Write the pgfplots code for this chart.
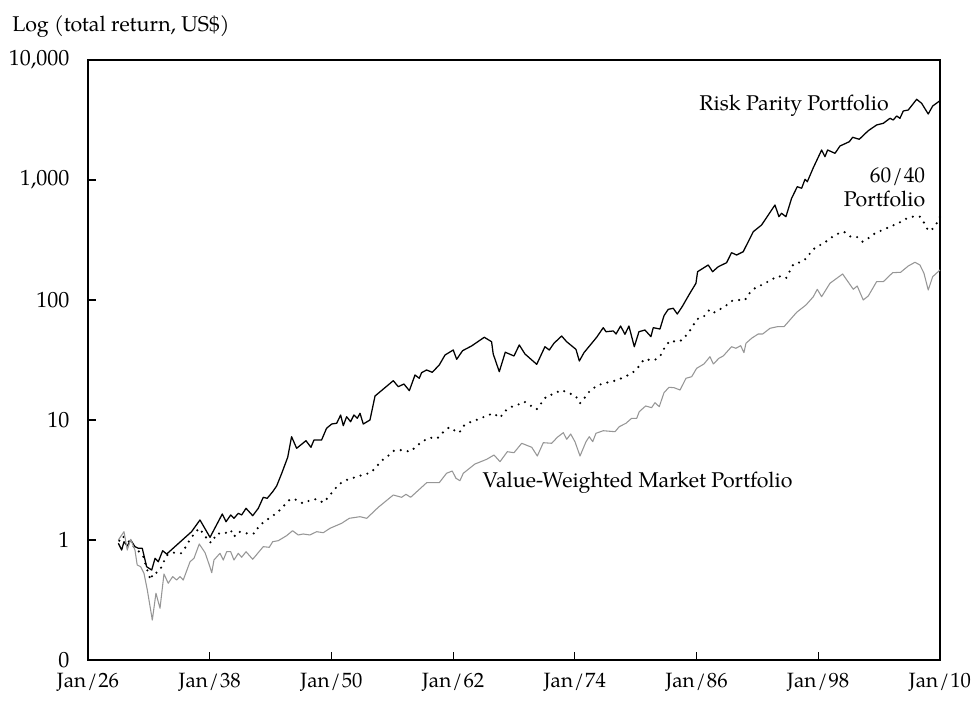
\documentclass[border=0pt]{standalone}
\usepackage{fontspec}
\setmainfont{TeX Gyre Pagella}
\usepackage{pgfplots}
\pgfplotsset{compat=1.18}
\definecolor{vwgray}{RGB}{150,150,150}
\newcommand{\slsep}{\kern0.8pt/\kern0.8pt}
\begin{document}
\begin{tikzpicture}
\useasboundingbox (-66pt,-31.5pt) rectangle (663pt,495pt);
\begin{axis}[
  at={(0pt,0pt)}, anchor=south west,
  scale only axis, width=639pt, height=450pt,
  xmin=1926, xmax=2010,
  ymode=log, ymin=0.1, ymax=10000,
  xtick={1926,1938,1950,1962,1974,1986,1998,2010},
  xticklabels={Jan\slsep26,Jan\slsep38,Jan\slsep50,Jan\slsep62,Jan\slsep74,Jan\slsep86,Jan\slsep98,Jan\slsep10},
  ytick={0.1,1,10,100,1000,10000},
  yticklabels={0,1,10,100,{1,000},{10,000}},
  yminorticks=false, xminorticks=false,
  tick align=inside, xtick pos=left, ytick pos=left,
  major tick length=6pt,
  tick style={black, line width=0.8pt},
  axis line style={black, line width=0.9pt},
  xticklabel style={font=\fontsize{15.5}{18}\selectfont, black, yshift=-6pt},
  yticklabel style={font=\fontsize{16.5}{19}\selectfont, black, xshift=-10.5pt},
  clip=false,
]
% Risk Parity Portfolio
\addplot[black, line width=0.95pt, line join=round] coordinates {
(1928.99,0.939) (1929.32,0.825) (1929.55,0.968) (1929.87,0.891) (1930.21,1.0)
(1930.63,0.880) (1930.96,0.853) (1931.35,0.853) (1931.78,0.599) (1932.28,0.562)
(1932.61,0.704) (1932.93,0.659) (1933.36,0.814) (1933.76,0.764) (1936.21,1.173)
(1937.04,1.468) (1938.03,1.053) (1939.24,1.647) (1939.61,1.420) (1940.07,1.616)
(1940.39,1.516) (1940.82,1.669) (1941.15,1.616) (1941.58,1.837) (1942.24,1.594)
(1942.79,1.837) (1943.28,2.269) (1943.67,2.226) (1944.21,2.527) (1944.60,2.818)
(1945.10,3.596) (1945.69,4.89) (1946.07,7.26) (1946.57,5.81) (1947.49,6.72)
(1947.98,5.92) (1948.28,6.81) (1949.03,6.81) (1949.52,8.53) (1950.03,9.26)
(1950.52,9.39) (1950.91,11.0) (1951.17,8.97) (1951.50,10.65) (1951.89,9.68)
(1952.22,11.0) (1952.55,10.33) (1952.82,11.37) (1953.14,9.26) (1953.80,10.0)
(1954.30,15.85) (1956.10,21.26) (1956.59,18.95) (1957.15,19.95) (1957.68,17.55)
(1958.24,23.71) (1958.66,22.26) (1958.89,24.79) (1959.38,26.1) (1959.94,24.98)
(1960.63,28.73) (1961.20,34.8) (1962.01,38.3) (1962.35,32.05) (1962.93,37.8)
(1963.82,41.4) (1965.07,48.9) (1965.79,44.9) (1965.95,35.5) (1966.55,25.26)
(1967.14,36.7) (1968.00,34.15) (1968.52,42.2) (1969.08,35.5) (1970.24,29.1)
(1971.05,40.8) (1971.48,38.3) (1971.94,43.6) (1972.70,50.1) (1973.19,44.9)
(1974.11,38.8) (1974.44,31.0) (1974.90,36.4) (1976.15,48.9) (1976.80,58.8)
(1977.07,54.4) (1977.79,55.2) (1978.06,52.1) (1978.51,60.7) (1978.94,51.8)
(1979.33,60.7) (1979.86,40.8) (1980.32,54.4) (1980.91,56.2) (1981.50,49.5)
(1981.73,58.8) (1982.39,57.3) (1982.79,74.0) (1983.21,83.6) (1983.70,85.3)
(1984.10,76.4) (1984.62,89.1) (1985.28,111.5) (1985.94,137.8) (1986.10,172.1)
(1987.15,195.8) (1987.58,172.1) (1988.14,189.4) (1988.96,204.6) (1989.45,247.9)
(1989.95,237.1) (1990.60,252.7) (1991.59,370.9) (1992.41,421.7) (1993.73,619)
(1994.12,494.6) (1994.38,528) (1994.81,494.6) (1995.37,704) (1995.93,879.6)
(1996.36,852.9) (1996.69,1013) (1996.92,967.9) (1997.51,1266) (1998.10,1616)
(1998.33,1778) (1998.66,1564) (1998.92,1778) (1999.65,1669) (2000.14,1920)
(2001.06,2085) (2001.39,2269) (2002.04,2184) (2002.93,2576) (2003.75,2873)
(2004.41,2968) (2005.07,3267) (2005.39,3162) (2005.73,3415) (2006.05,3267)
(2006.38,3758) (2006.87,3831) (2007.70,4705) (2008.19,4357) (2008.84,3548)
(2009.28,4137) (2010.00,4580)
};
% 60/40 Portfolio
\addplot[black, line width=1.8pt, line cap=round, dash pattern=on 0pt off 5.3pt] coordinates {
(1929.09,0.987) (1929.42,1.080) (1929.81,1.0) (1930.21,0.950) (1930.63,0.853)
(1931.05,0.799) (1931.45,0.726) (1931.72,0.607) (1931.94,0.528) (1932.17,0.464)
(1932.43,0.534) (1932.76,0.534) (1933.10,0.562) (1933.42,0.647) (1933.82,0.750)
(1934.41,0.784) (1935.17,0.775) (1935.66,0.880) (1936.06,1.013) (1936.55,1.150)
(1936.97,1.252) (1937.47,1.101) (1937.96,0.957) (1938.28,0.957) (1938.62,1.122)
(1939.08,1.137) (1939.51,1.137) (1940.07,1.212) (1940.39,1.065) (1940.82,1.173)
(1941.38,1.150) (1941.97,1.122) (1942.46,1.137) (1942.86,1.316) (1943.62,1.468)
(1944.20,1.585) (1944.76,1.721) (1945.32,1.931) (1945.92,2.184) (1946.41,2.184)
(1947.17,2.022) (1947.82,2.126) (1948.54,2.196) (1949.20,2.046) (1949.79,2.326)
(1950.25,2.611) (1950.78,2.929) (1951.50,3.162) (1952.32,3.331) (1953.08,3.481)
(1953.87,3.638) (1954.39,4.035) (1954.95,4.579) (1955.61,5.041) (1956.17,5.549)
(1957.02,5.623) (1957.75,5.442) (1958.34,5.99) (1958.90,6.596) (1959.72,7.12)
(1960.44,7.04) (1960.96,7.84) (1961.62,8.70) (1962.18,8.14) (1962.61,7.84)
(1963.00,8.91) (1963.66,9.57) (1964.48,10.13) (1965.24,10.80) (1965.96,11.37)
(1966.62,10.43) (1967.11,11.89) (1967.80,12.91) (1968.44,13.47) (1969.01,14.21)
(1969.65,13.16) (1970.24,12.28) (1970.73,13.94) (1971.22,15.85) (1971.94,16.47)
(1972.63,17.78) (1973.35,16.88) (1974.08,15.85) (1974.51,13.78) (1975.00,15.46)
(1975.49,17.55) (1976.15,19.20) (1976.80,20.22) (1977.62,20.85) (1978.37,21.84)
(1979.10,23.26) (1979.82,25.26) (1980.35,28.18) (1980.81,32.05) (1981.57,31.62)
(1982.06,32.05) (1982.56,35.48) (1982.88,40.8) (1983.38,45.8) (1984.03,44.9)
(1984.62,46.4) (1985.18,53.4) (1985.51,58.1) (1986.01,69.1) (1986.68,72.2)
(1987.25,82.5) (1987.65,77.9) (1988.14,82.5) (1988.70,86.9) (1989.45,98.1)
(1990.11,100) (1990.77,100) (1991.26,115.1) (1991.86,127.6) (1992.58,135.1)
(1993.31,146.8) (1994.06,158.5) (1994.82,151.6) (1995.54,198.5) (1996.19,206.2)
(1996.86,222.6) (1997.35,257.6) (1997.84,278.1) (1998.56,296.8) (1999.15,326.7)
(1999.87,354.8) (2000.53,370.9) (2001.19,336.9) (2001.78,336.9) (2002.37,306.0)
(2002.93,326.7) (2003.59,359.6) (2004.34,383.1) (2005.07,408.1) (2005.88,435.6)
(2006.54,470.5) (2007.20,494.6) (2008.02,494.6) (2008.42,440.8) (2008.84,378.0)
(2009.18,383.1) (2009.67,435.6) (2010.00,494.6)
};
% Value-Weighted Market Portfolio
\addplot[vwgray, line width=0.8pt, line join=round] coordinates {
(1928.99,1.0) (1929.55,1.173) (1929.87,0.825) (1930.21,1.013) (1930.63,0.825)
(1930.85,0.619) (1931.19,0.599) (1931.52,0.528) (1931.85,0.383) (1932.34,0.215)
(1932.70,0.360) (1933.10,0.270) (1933.49,0.521) (1933.91,0.436) (1934.35,0.495)
(1934.74,0.464) (1935.07,0.495) (1935.39,0.464) (1936.06,0.659) (1936.45,0.704)
(1936.97,0.926) (1937.54,0.784) (1937.96,0.619) (1938.20,0.534) (1938.42,0.681)
(1939.01,0.775) (1939.34,0.681) (1939.67,0.799) (1940.07,0.799) (1940.39,0.681)
(1940.82,0.775) (1941.15,0.718) (1941.58,0.799) (1942.24,0.691) (1943.28,0.880)
(1943.87,0.869) (1944.21,0.968) (1944.76,0.987) (1945.58,1.086) (1946.17,1.195)
(1946.73,1.101) (1947.22,1.122) (1947.88,1.101) (1948.54,1.173) (1949.20,1.150)
(1949.86,1.252) (1951.01,1.378) (1951.76,1.516) (1952.82,1.564) (1953.48,1.516)
(1954.62,1.873) (1956.10,2.371) (1956.92,2.269) (1957.35,2.403) (1957.81,2.269)
(1959.39,3.003) (1960.63,3.003) (1961.35,3.596) (1961.91,3.758) (1962.28,3.267)
(1962.67,3.120) (1963.00,3.596) (1964.15,4.298) (1965.31,4.705) (1966.03,5.109)
(1966.62,4.493) (1967.34,5.442) (1968.00,5.339) (1968.76,6.396) (1969.75,5.923)
(1970.30,5.012) (1970.89,6.47) (1971.72,6.396) (1972.27,7.175) (1972.86,7.84)
(1973.20,6.906) (1973.59,7.64) (1974.01,6.596) (1974.51,5.012) (1975.10,6.596)
(1975.42,7.26) (1975.76,6.596) (1976.08,7.75) (1976.80,8.14) (1977.96,7.99)
(1978.38,8.80) (1979.04,9.39) (1979.60,10.33) (1980.10,10.33) (1980.35,11.73)
(1980.98,13.09) (1981.57,12.66) (1981.90,13.94) (1982.32,12.91) (1982.79,16.88)
(1983.28,18.73) (1983.78,18.59) (1984.37,17.78) (1984.96,22.26) (1985.52,22.96)
(1986.01,26.97) (1986.73,29.3) (1987.32,33.7) (1987.65,29.3) (1988.21,32.7)
(1988.63,34.15) (1989.45,40.8) (1989.88,39.6) (1990.35,41.6) (1990.67,36.4)
(1990.87,43.6) (1991.43,48.0) (1992.08,52.1) (1992.52,52.1) (1993.24,58.1)
(1993.96,59.9) (1994.62,59.9) (1995.14,67.2) (1995.87,79.0) (1996.79,90.9)
(1997.51,106.5) (1997.90,122.8) (1998.33,106.5) (1999.15,137.8) (2000.40,164.7)
(2001.45,122.8) (2001.84,130.8) (2002.43,100) (2002.93,108.0) (2003.75,142.1)
(2004.41,142.1) (2005.33,168.9) (2006.12,170.2) (2006.87,192.0) (2007.53,206.2)
(2008.02,195.8) (2008.42,166.9) (2008.84,121.2) (2009.28,156.4) (2010.00,177.8)
};
\node[anchor=base east, font=\fontsize{16}{19}\selectfont] at (axis cs:2005.4,3830) {Risk Parity Portfolio};
\node[anchor=base east, font=\fontsize{16}{19}\selectfont] at (axis cs:2009.0,944) {60\slsep40};
\node[anchor=base east, font=\fontsize{16}{19}\selectfont] at (axis cs:2009.0,607) {Portfolio};
\node[anchor=base west, font=\fontsize{16}{19}\selectfont] at (axis cs:1964.45,2.713) {Value-Weighted Market Portfolio};
\node[anchor=base west, font=\fontsize{16}{19}\selectfont, inner sep=0pt] at (rel axis cs:-0.0892,1.0475) {Log (total return, US\$)};
\end{axis}
\end{tikzpicture}
\end{document}
